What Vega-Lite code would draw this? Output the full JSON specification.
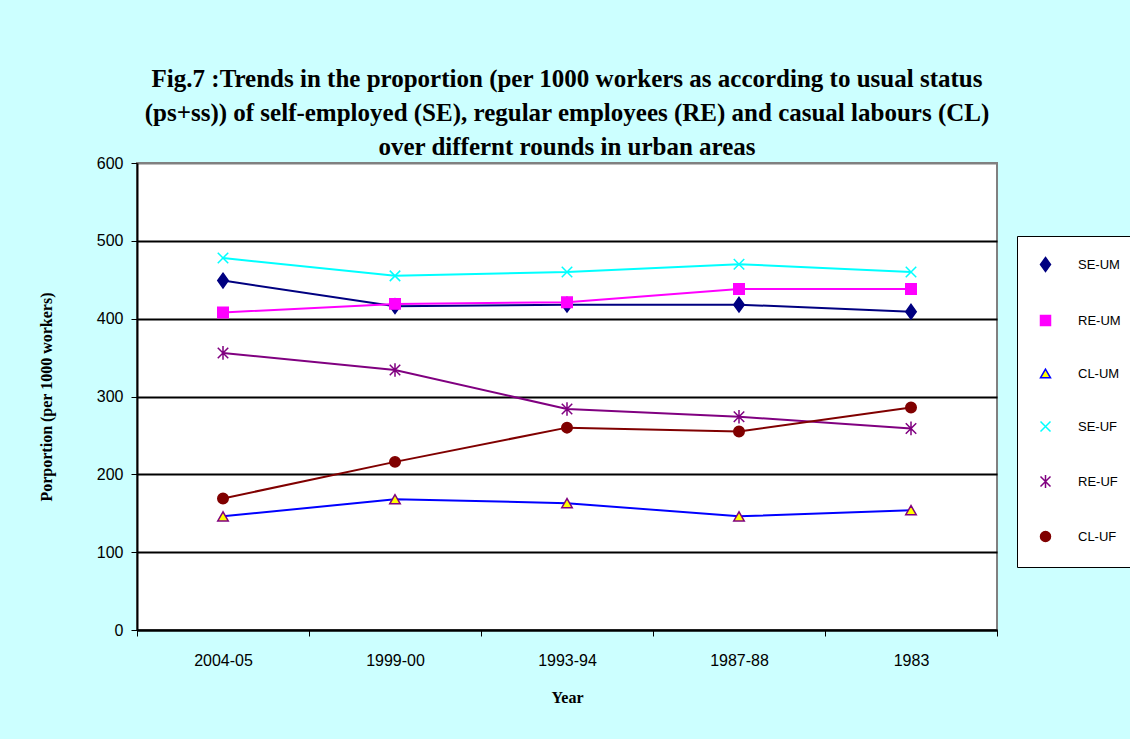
{
  "$schema": "https://vega.github.io/schema/vega-lite/v6.json",
  "width": 860,
  "height": 467,
  "autosize": {"type": "none"},
  "padding": {"left": 137, "top": 163, "right": 133, "bottom": 109},
  "background": "#CCFFFF",
  "title": {
    "text": [
      "Fig.7 :Trends in the proportion (per 1000 workers as according to usual status",
      "(ps+ss))  of self-employed (SE), regular employees (RE) and casual labours (CL)",
      "over differnt rounds in urban areas"
    ],
    "font": "Liberation Serif",
    "fontSize": 25,
    "fontWeight": "bold",
    "lineHeight": 34,
    "anchor": "middle",
    "offset": -5,
    "color": "black"
  },
  "config": {
    "view": {"fill": "white", "stroke": "#808080", "strokeWidth": 2}
  },
  "data": {
    "values": [
      {"year": "2004-05", "series": "SE-UM", "value": 449},
      {"year": "1999-00", "series": "SE-UM", "value": 416},
      {"year": "1993-94", "series": "SE-UM", "value": 418},
      {"year": "1987-88", "series": "SE-UM", "value": 418},
      {"year": "1983", "series": "SE-UM", "value": 409},
      {"year": "2004-05", "series": "RE-UM", "value": 408},
      {"year": "1999-00", "series": "RE-UM", "value": 419},
      {"year": "1993-94", "series": "RE-UM", "value": 421},
      {"year": "1987-88", "series": "RE-UM", "value": 438},
      {"year": "1983", "series": "RE-UM", "value": 438},
      {"year": "2004-05", "series": "CL-UM", "value": 146},
      {"year": "1999-00", "series": "CL-UM", "value": 168},
      {"year": "1993-94", "series": "CL-UM", "value": 163},
      {"year": "1987-88", "series": "CL-UM", "value": 146},
      {"year": "1983", "series": "CL-UM", "value": 154},
      {"year": "2004-05", "series": "SE-UF", "value": 478},
      {"year": "1999-00", "series": "SE-UF", "value": 455},
      {"year": "1993-94", "series": "SE-UF", "value": 460},
      {"year": "1987-88", "series": "SE-UF", "value": 470},
      {"year": "1983", "series": "SE-UF", "value": 460},
      {"year": "2004-05", "series": "RE-UF", "value": 356},
      {"year": "1999-00", "series": "RE-UF", "value": 334},
      {"year": "1993-94", "series": "RE-UF", "value": 284},
      {"year": "1987-88", "series": "RE-UF", "value": 274},
      {"year": "1983", "series": "RE-UF", "value": 259},
      {"year": "2004-05", "series": "CL-UF", "value": 169},
      {"year": "1999-00", "series": "CL-UF", "value": 216},
      {"year": "1993-94", "series": "CL-UF", "value": 260},
      {"year": "1987-88", "series": "CL-UF", "value": 255},
      {"year": "1983", "series": "CL-UF", "value": 286}
    ]
  },
  "encoding": {
    "x": {
      "field": "year",
      "type": "nominal",
      "sort": ["2004-05", "1999-00", "1993-94", "1987-88", "1983"],
      "scale": {"type": "band", "paddingInner": 0, "paddingOuter": 0},
      "axis": {
        "title": "Year",
        "titleFont": "Liberation Serif",
        "titleFontSize": 16,
        "titleFontWeight": "bold",
        "titleColor": "black",
        "titlePadding": 21,
        "labelFont": "Liberation Sans",
        "labelFontSize": 16,
        "labelColor": "black",
        "labelAngle": 0,
        "labelPadding": 16,
        "tickBand": "extent",
        "tickSize": 6,
        "tickColor": "black",
        "tickWidth": 1,
        "domainColor": "black",
        "domainWidth": 2,
        "grid": false
      }
    },
    "y": {
      "field": "value",
      "type": "quantitative",
      "scale": {"domain": [0, 600], "nice": false},
      "axis": {
        "title": "Porportion (per 1000 workers)",
        "titleFont": "Liberation Serif",
        "titleFontSize": 16,
        "titleFontWeight": "bold",
        "titleColor": "black",
        "titlePadding": 42,
        "values": [0, 100, 200, 300, 400, 500, 600],
        "labelFont": "Liberation Sans",
        "labelFontSize": 16,
        "labelColor": "black",
        "labelPadding": 8,
        "tickSize": 6,
        "tickColor": "black",
        "domainColor": "black",
        "domainWidth": 2,
        "grid": true,
        "gridColor": {"condition": {"test": "datum.value === 600", "value": "#808080"}, "value": "black"},
        "gridWidth": 2,
        "gridOpacity": 1
      }
    }
  },
  "layer": [
    {
      "mark": {"type": "line", "strokeWidth": 2},
      "encoding": {
        "color": {
          "field": "series",
          "type": "nominal",
          "scale": {
            "domain": ["SE-UM", "RE-UM", "CL-UM", "SE-UF", "RE-UF", "CL-UF"],
            "range": ["#000080", "#FF00FF", "#0000FF", "#00FFFF", "#800080", "#800000"]
          },
          "legend": {
            "title": null,
            "orient": "none",
            "legendX": 880,
            "legendY": 73,
            "padding": 22,
            "fillColor": "white",
            "strokeColor": "black",
            "labelFont": "Liberation Sans",
            "labelFontSize": 13,
            "labelColor": "black",
            "labelOffset": 26,
            "rowPadding": 37,
            "symbolSize": 100,
            "symbolStrokeWidth": 1.5
          }
        }
      }
    },
    {
      "mark": {"type": "point", "filled": true, "size": 110, "strokeWidth": 1.5, "opacity": 1},
      "encoding": {
        "shape": {
          "field": "series",
          "type": "nominal",
          "scale": {
            "domain": ["SE-UM", "RE-UM", "CL-UM", "SE-UF", "RE-UF", "CL-UF"],
            "range": ["M0,-1.4L1,0L0,1.4L-1,0Z", "square", "triangle-up", "M-1,-1L1,1M-1,1L1,-1", "M-1,-1L1,1M-1,1L1,-1M0,-1.3V1.3", "circle"]
          },
          "legend": null
        },
        "fill": {
          "field": "series",
          "type": "nominal",
          "scale": {
            "domain": ["SE-UM", "RE-UM", "CL-UM", "SE-UF", "RE-UF", "CL-UF"],
            "range": ["#000080", "#FF00FF", "#FFFF00", "#00FFFF", "#800080", "#800000"]
          },
          "legend": null
        },
        "stroke": {
          "field": "series",
          "type": "nominal",
          "scale": {
            "domain": ["SE-UM", "RE-UM", "CL-UM", "SE-UF", "RE-UF", "CL-UF"],
            "range": ["#000080", "#FF00FF", "#800080", "#00FFFF", "#800080", "#800000"]
          },
          "legend": null
        }
      }
    }
  ]
}
